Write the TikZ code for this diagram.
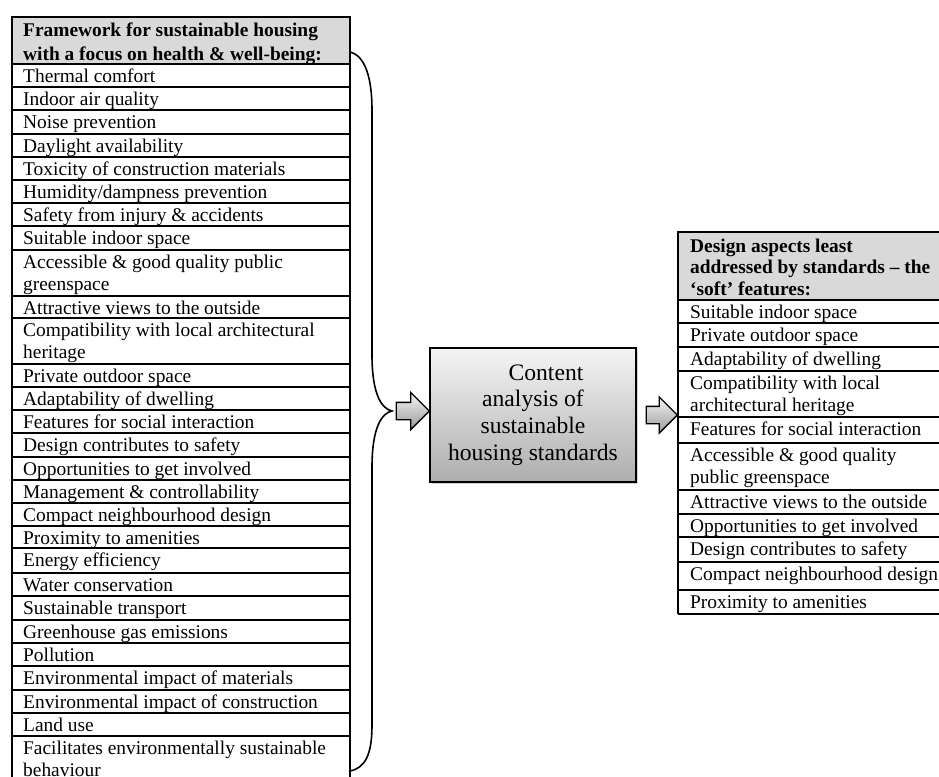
\documentclass[tikz,border=0pt]{standalone}
\usepackage{fontspec}
\setmainfont{Liberation Serif}
\usetikzlibrary{shapes.arrows,shadows}
\tikzset{
  tline/.style={line width=1.6pt, black},
  hdrfill/.style={fill=black!15},
  rowtxt/.style={anchor=base west, inner sep=0pt, align=left, font=\fontsize{19.4}{22}\selectfont},
  hdrtxt/.style={rowtxt, font=\fontsize{19.4}{23.3}\selectfont\bfseries},
  rhdrtxt/.style={rowtxt, font=\fontsize{19.4}{21.5}\selectfont\bfseries},
  bracestyle/.style={line width=1.6pt, black},
  blockarrow/.style={single arrow, draw=black, line width=1.3pt, top color=black!4, bottom color=black!40,
    inner xsep=0pt, inner ysep=8pt, minimum height=33pt, single arrow head extend=10pt},
  cbox/.style={draw=black, line width=1.8pt, top color=black!4, bottom color=black!32,
    minimum width=206pt, minimum height=134pt, inner sep=0pt, align=center,
    font=\fontsize{23.6}{26.7}\selectfont,
    drop shadow={shadow xshift=2pt, shadow yshift=-2pt, opacity=0.35}}
}
% one-line row: baseline = top + 18.5 ; two-line row: last baseline = top + 18.5 + 22
\newcommand\lrow[3]{\node[rowtxt] (#1) at (23,{#2+18.5}) {#3};}
\newcommand\lrowii[3]{\node[rowtxt] (#1) at (23,{#2+40.5}) {#3};}
\newcommand\rrow[3]{\node[rowtxt] (#1) at (690,{#2+18}) {#3};}
\newcommand\rrowii[3]{\node[rowtxt] (#1) at (690,{#2+40}) {#3};}
\begin{document}
\begin{tikzpicture}[x=1pt,y=-1pt]
\useasboundingbox (0,0) rectangle (939,776);
\clip (0,0) rectangle (939,776);
% ---------- left table ----------
\fill[hdrfill] (12,17) rectangle (350,64);
\foreach \y in {64,87,110,134,157,180,203,226,250,296,318,364,387,410,433,457,480,503,526,548,573,596,620,643,666,690,713,736}
  \draw[tline] (12,\y) -- (350,\y);
\draw[tline] (12,800) -- (12,17) -- (350,17) -- (350,800);
\node[hdrtxt] (lhead) at (23,60) {Framework for sustainable housing\\with a focus on health \& well-being:};
\lrow{l1}{64}{Thermal comfort}
\lrow{l2}{87}{Indoor air quality}
\lrow{l3}{110}{Noise prevention}
\lrow{l4}{134}{Daylight availability}
\lrow{l5}{157}{Toxicity of construction materials}
\lrow{l6}{180}{Humidity/dampness prevention}
\lrow{l7}{203}{Safety from injury \& accidents}
\lrow{l8}{226}{Suitable indoor space}
\lrowii{l9}{250}{Accessible \& good quality public\\greenspace}
\lrow{l10}{296}{Attractive views to the outside}
\lrowii{l11}{318}{Compatibility with local architectural\\heritage}
\lrow{l12}{364}{Private outdoor space}
\lrow{l13}{387}{Adaptability of dwelling}
\lrow{l14}{410}{Features for social interaction}
\lrow{l15}{433}{Design contributes to safety}
\lrow{l16}{457}{Opportunities to get involved}
\lrow{l17}{480}{Management \& controllability}
\lrow{l18}{503}{Compact neighbourhood design}
\lrow{l19}{526}{Proximity to amenities}
\lrow{l20}{548}{Energy efficiency}
\lrow{l21}{573}{Water conservation}
\lrow{l22}{596}{Sustainable transport}
\lrow{l23}{620}{Greenhouse gas emissions}
\lrow{l24}{643}{Pollution}
\lrow{l25}{666}{Environmental impact of materials}
\lrow{l26}{690}{Environmental impact of construction}
\lrow{l27}{713}{Land use}
\lrowii{l28}{736}{Facilitates environmentally sustainable\\behaviour}
% ---------- brace ----------
\coordinate (btop) at (350,52);
\coordinate (btip) at (392,411);
\coordinate (bbot) at (350,771);
\draw[bracestyle] (btop) .. controls (366,56) and (372,80) .. (372,110) -- (372,355)
  .. controls (372,395) and (382,409) .. (btip)
  .. controls (382,413) and (372,427) .. (372,467) -- (372,725)
  .. controls (372,755) and (365,768) .. (bbot);
% ---------- centre box ----------
\node[cbox] (box) at (533,415) {\hspace*{26pt}Content\\analysis of\\sustainable\\housing standards};
\node[blockarrow] (arr1) at (408.5,411) {};
\node[blockarrow, minimum height=31pt, single arrow head extend=9.5pt] (arr2) at (657.5,415) {};
% ---------- right table ----------
\fill[hdrfill] (678,232) rectangle (960,300);
\foreach \y in {300,323,347,371,417,443,490,514,537,562,590,614}
  \draw[tline] (678,\y) -- (960,\y);
\draw[tline] (678,614) -- (678,232) -- (960,232);
\node[rhdrtxt] (rhead) at (690,295) {Design aspects least\\addressed by standards – the\\‘soft’ features:};
\rrow{r1}{300}{Suitable indoor space}
\rrow{r2}{323}{Private outdoor space}
\rrow{r3}{347}{Adaptability of dwelling}
\rrowii{r4}{371}{Compatibility with local\\architectural heritage}
\rrow{r5}{417}{Features for social interaction}
\rrowii{r6}{443}{Accessible \& good quality\\public greenspace}
\rrow{r7}{490}{Attractive views to the outside}
\rrow{r8}{514}{Opportunities to get involved}
\rrow{r9}{537}{Design contributes to safety}
\rrow{r10}{562}{Compact neighbourhood design}
\rrow{r11}{590}{Proximity to amenities}
\end{tikzpicture}
\end{document}
